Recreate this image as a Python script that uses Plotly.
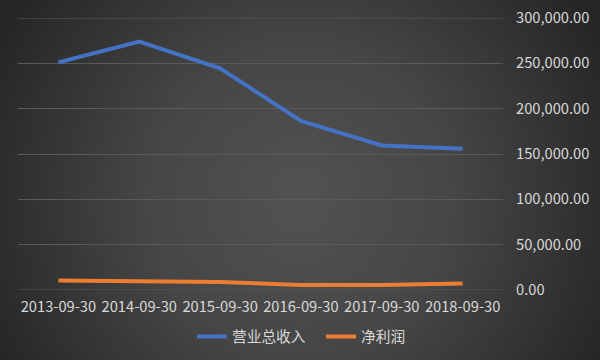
import base64
import plotly.graph_objects as go

categories = ["2013-09-30", "2014-09-30", "2015-09-30", "2016-09-30", "2017-09-30", "2018-09-30"]
revenue = [251000, 274000, 244500, 186500, 159500, 155800]
net_profit = [10500, 9800, 8700, 5600, 5500, 7200]
series_names = ["营业总收入", "净利润"]
y_ticks = [0, 50000, 100000, 150000, 200000, 250000, 300000]

W, H = 600, 360
ml, mr, mt, mb = 18, 97, 18, 70
pw, ph = W - ml - mr, H - mt - mb

svg = f'''<svg xmlns="http://www.w3.org/2000/svg" width="{W}" height="{H}" viewBox="0 0 {W} {H}" preserveAspectRatio="none">
<defs><radialGradient id="g" cx="300" cy="200" r="340" gradientUnits="userSpaceOnUse">
<stop offset="0" stop-color="#525252"/><stop offset="0.45" stop-color="#464646"/><stop offset="1" stop-color="#262626"/>
</radialGradient></defs><rect width="{W}" height="{H}" fill="url(#g)"/></svg>'''
src = "data:image/svg+xml;base64," + base64.b64encode(svg.encode()).decode()

font = "Noto Sans CJK SC, Noto Sans, sans-serif"
fs = 14.7
grid_color = "#5a5a5a"

fig = go.Figure()
fig.add_trace(go.Scatter(x=categories, y=revenue, mode="lines", name=series_names[0],
                         line=dict(color="#4472C4", width=4)))
fig.add_trace(go.Scatter(x=categories, y=net_profit, mode="lines", name=series_names[1],
                         line=dict(color="#ED7D31", width=4)))

# gridlines at the range edges (plotly omits them at the boundary)
for v in (y_ticks[0], y_ticks[-1]):
    fig.add_shape(type="line", xref="paper", x0=0, x1=1, yref="y", y0=v, y1=v,
                  line=dict(color=grid_color, width=1), layer="below")

fig.update_layout(
    width=W, height=H,
    margin=dict(l=ml, r=mr, t=mt, b=mb, autoexpand=False),
    paper_bgcolor="#333333", plot_bgcolor="rgba(0,0,0,0)",
    font=dict(family=font, size=fs, color="#d9d9d9"),
    showlegend=True,
    legend=dict(orientation="h", x=192 / W, xref="container", xanchor="left",
                y=(H - 337) / H, yref="container", yanchor="middle",
                entrywidth=84, entrywidthmode="pixels",
                font=dict(size=fs, color="#d9d9d9"), bgcolor="rgba(0,0,0,0)"),
    images=[dict(source=src, xref="paper", yref="paper",
                 x=-ml / pw, y=1 + mt / ph, sizex=W / pw, sizey=H / ph,
                 xanchor="left", yanchor="top", sizing="stretch", layer="below")],
)
fig.update_xaxes(type="category", range=[-0.5, 5.5], showgrid=False, zeroline=False,
                 showline=False, ticks="", tickfont=dict(size=fs, color="#d9d9d9"),
                 ticklabelstandoff=6)
fig.update_yaxes(side="right", range=[0, 300000], tickvals=y_ticks, tickformat=",.2f",
                 showgrid=True, gridcolor=grid_color, gridwidth=1, zeroline=False,
                 showline=False, ticks="", tickfont=dict(size=fs, color="#d9d9d9"),
                 ticklabelstandoff=12)

fig.write_html("out.html", config={"displayModeBar": False},
               post_script="document.body.style.margin='0px';document.body.style.background='#262626';")
